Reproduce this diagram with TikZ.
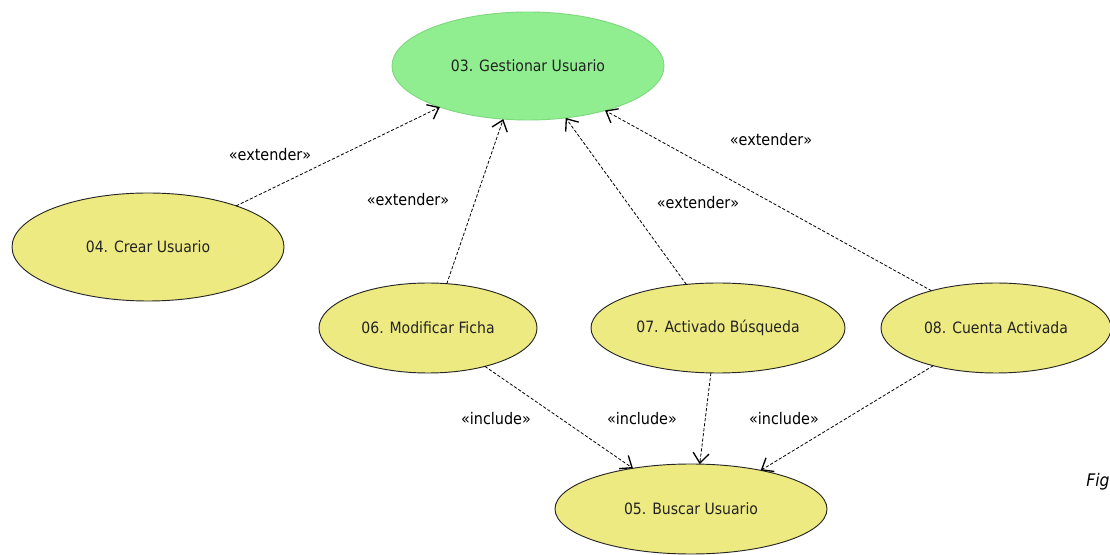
\documentclass[tikz,border=0pt]{standalone}
\usepackage{fontspec}
\setmainfont{DejaVu Sans Condensed}
\usetikzlibrary{arrows.meta,shapes.geometric}
\definecolor{ucgreen}{HTML}{90EE90}
\definecolor{ucgreenline}{HTML}{7ED87E}
\definecolor{ucyellow}{HTML}{EEEA82}
\definecolor{uctext}{HTML}{222222}
\tikzset{
  usecase/.style={ellipse, draw=black!85, line width=0.7pt, fill=ucyellow, inner sep=0pt, outer sep=0pt, text=uctext, font=\fontsize{11.7}{14}\selectfont},
  maincase/.style={usecase, fill=ucgreen, draw=ucgreenline},
  dep/.style={dash pattern=on 2.4pt off 1.4pt, line width=0.6pt, -{Straight Barb[length=7.5pt,width=12pt,line width=1pt]}},
  stereo/.style={font=\fontsize{12}{14}\selectfont, text=black, inner sep=0pt}
}
\begin{document}
\begin{tikzpicture}[x=0.75pt,y=-0.75pt]
\useasboundingbox (0,0) rectangle (1110,555);
\node[maincase, minimum width=272*0.75pt, minimum height=108*0.75pt] (g03) at (528,66) {03. Gestionar Usuario};
\node[usecase, minimum width=272*0.75pt, minimum height=108*0.75pt] (c04) at (148,247) {04. Crear Usuario};
\node[usecase, minimum width=218*0.75pt, minimum height=90*0.75pt] (m06) at (428,328) {06. Modificar Ficha};
\node[usecase, minimum width=254*0.75pt, minimum height=90*0.75pt] (a07) at (718,328) {07. Activado Búsqueda};
\node[usecase, minimum width=230*0.75pt, minimum height=90*0.75pt] (c08) at (996,328) {08. Cuenta Activada};
\node[usecase, minimum width=272*0.75pt, minimum height=90*0.75pt] (b05) at (691,509) {05. Buscar Usuario};

\draw[dep] (c04.25.5) -- (g03.205.8);
\draw[dep] (m06.67.8) -- (g03.245.2);
\draw[dep] (a07.126) -- (g03.306.9);
\draw[dep] (c08.150.6) -- (g03.330.9);
\draw[dep] (m06.326.1) -- (b05.145.2);
\draw[dep] (a07.261.3) -- (b05.79.7);
\draw[dep] (c08.211.8) -- (b05.29.8);

\node[stereo] (l1) at (270,155) {«extender»};
\node[stereo] (l2) at (408,200) {«extender»};
\node[stereo] (l3) at (698,203) {«extender»};
\node[stereo] (l4) at (771,140) {«extender»};
\node[stereo] (l5) at (496,419) {«include»};
\node[stereo] (l6) at (642,419) {«include»};
\node[stereo] (l7) at (784,419) {«include»};
\node[anchor=west, inner sep=0pt, font=\fontsize{13}{15}\itshape] (fig) at (1086,482) {Fig};
\end{tikzpicture}
\end{document}
